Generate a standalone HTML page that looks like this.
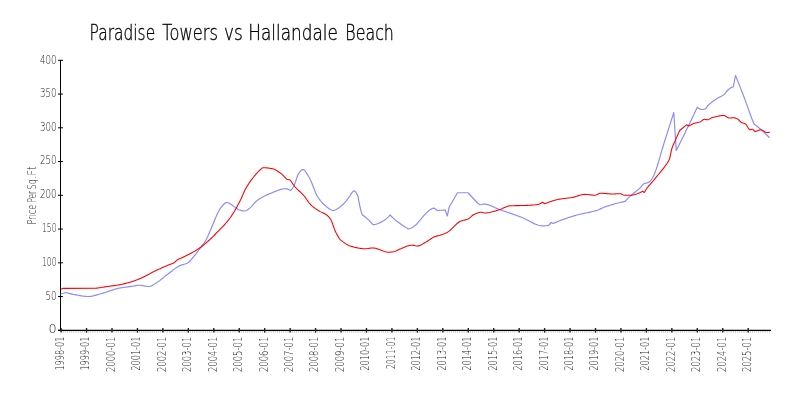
<!DOCTYPE html>
<html lang="en"><head><meta charset="utf-8"><title>Paradise Towers vs Hallandale Beach</title>
<style>
html,body{margin:0;padding:0;background:#fff;}
body{width:800px;height:400px;overflow:hidden;}
svg{display:block;}
text{font-family:"DejaVu Sans","Liberation Sans",sans-serif;font-weight:200;}
.t{fill:#000;stroke:#000;stroke-width:0.35px;}
.l{fill:#222;}
</style></head><body>
<svg width="800" height="400" viewBox="0 0 800 400">
<rect width="800" height="400" fill="#fff"/>
<text class="t" y="40.4" font-size="21.4"><tspan x="89.60" textLength="65.55" lengthAdjust="spacingAndGlyphs">Paradise</tspan> <tspan x="162.35" textLength="55.55" lengthAdjust="spacingAndGlyphs">Towers</tspan> <tspan x="224.10" textLength="18.80" lengthAdjust="spacingAndGlyphs">vs</tspan> <tspan x="248.35" textLength="89.55" lengthAdjust="spacingAndGlyphs">Hallandale</tspan> <tspan x="345.35" textLength="48.55" lengthAdjust="spacingAndGlyphs">Beach</tspan></text>
<text class="l" transform="translate(36.2,0) rotate(-90)" font-size="11.8"><tspan x="-224.40" textLength="19.70" lengthAdjust="spacingAndGlyphs">Price</tspan> <tspan x="-202.50" textLength="11.50" lengthAdjust="spacingAndGlyphs">Per</tspan> <tspan x="-189.40" textLength="12.90" lengthAdjust="spacingAndGlyphs">Sq.</tspan> <tspan x="-175.40" textLength="9.20" lengthAdjust="spacingAndGlyphs">Ft</tspan></text>
<path d="M61.10 330.8V332.6M63.22 330.8V332.6M65.34 330.8V332.6M67.46 330.8V332.6M69.58 330.8V332.6M71.70 330.8V332.6M73.82 330.8V332.6M75.94 330.8V332.6M78.07 330.8V332.6M80.19 330.8V332.6M82.31 330.8V332.6M84.43 330.8V332.6M86.55 330.8V332.6M88.67 330.8V332.6M90.79 330.8V332.6M92.91 330.8V332.6M95.03 330.8V332.6M97.15 330.8V332.6M99.27 330.8V332.6M101.39 330.8V332.6M103.51 330.8V332.6M105.63 330.8V332.6M107.75 330.8V332.6M109.88 330.8V332.6M112.00 330.8V332.6M114.12 330.8V332.6M116.24 330.8V332.6M118.36 330.8V332.6M120.48 330.8V332.6M122.60 330.8V332.6M124.72 330.8V332.6M126.84 330.8V332.6M128.96 330.8V332.6M131.08 330.8V332.6M133.20 330.8V332.6M135.32 330.8V332.6M137.44 330.8V332.6M139.57 330.8V332.6M141.69 330.8V332.6M143.81 330.8V332.6M145.93 330.8V332.6M148.05 330.8V332.6M150.17 330.8V332.6M152.29 330.8V332.6M154.41 330.8V332.6M156.53 330.8V332.6M158.65 330.8V332.6M160.77 330.8V332.6M162.89 330.8V332.6M165.01 330.8V332.6M167.13 330.8V332.6M169.25 330.8V332.6M171.38 330.8V332.6M173.50 330.8V332.6M175.62 330.8V332.6M177.74 330.8V332.6M179.86 330.8V332.6M181.98 330.8V332.6M184.10 330.8V332.6M186.22 330.8V332.6M188.34 330.8V332.6M190.46 330.8V332.6M192.58 330.8V332.6M194.70 330.8V332.6M196.82 330.8V332.6M198.94 330.8V332.6M201.06 330.8V332.6M203.19 330.8V332.6M205.31 330.8V332.6M207.43 330.8V332.6M209.55 330.8V332.6M211.67 330.8V332.6M213.79 330.8V332.6M215.91 330.8V332.6M218.03 330.8V332.6M220.15 330.8V332.6M222.27 330.8V332.6M224.39 330.8V332.6M226.51 330.8V332.6M228.63 330.8V332.6M230.75 330.8V332.6M232.88 330.8V332.6M235.00 330.8V332.6M237.12 330.8V332.6M239.24 330.8V332.6M241.36 330.8V332.6M243.48 330.8V332.6M245.60 330.8V332.6M247.72 330.8V332.6M249.84 330.8V332.6M251.96 330.8V332.6M254.08 330.8V332.6M256.20 330.8V332.6M258.32 330.8V332.6M260.44 330.8V332.6M262.56 330.8V332.6M264.69 330.8V332.6M266.81 330.8V332.6M268.93 330.8V332.6M271.05 330.8V332.6M273.17 330.8V332.6M275.29 330.8V332.6M277.41 330.8V332.6M279.53 330.8V332.6M281.65 330.8V332.6M283.77 330.8V332.6M285.89 330.8V332.6M288.01 330.8V332.6M290.13 330.8V332.6M292.25 330.8V332.6M294.37 330.8V332.6M296.50 330.8V332.6M298.62 330.8V332.6M300.74 330.8V332.6M302.86 330.8V332.6M304.98 330.8V332.6M307.10 330.8V332.6M309.22 330.8V332.6M311.34 330.8V332.6M313.46 330.8V332.6M315.58 330.8V332.6M317.70 330.8V332.6M319.82 330.8V332.6M321.94 330.8V332.6M324.06 330.8V332.6M326.18 330.8V332.6M328.31 330.8V332.6M330.43 330.8V332.6M332.55 330.8V332.6M334.67 330.8V332.6M336.79 330.8V332.6M338.91 330.8V332.6M341.03 330.8V332.6M343.15 330.8V332.6M345.27 330.8V332.6M347.39 330.8V332.6M349.51 330.8V332.6M351.63 330.8V332.6M353.75 330.8V332.6M355.87 330.8V332.6M358.00 330.8V332.6M360.12 330.8V332.6M362.24 330.8V332.6M364.36 330.8V332.6M366.48 330.8V332.6M368.60 330.8V332.6M370.72 330.8V332.6M372.84 330.8V332.6M374.96 330.8V332.6M377.08 330.8V332.6M379.20 330.8V332.6M381.32 330.8V332.6M383.44 330.8V332.6M385.56 330.8V332.6M387.68 330.8V332.6M389.81 330.8V332.6M391.93 330.8V332.6M394.05 330.8V332.6M396.17 330.8V332.6M398.29 330.8V332.6M400.41 330.8V332.6M402.53 330.8V332.6M404.65 330.8V332.6M406.77 330.8V332.6M408.89 330.8V332.6M411.01 330.8V332.6M413.13 330.8V332.6M415.25 330.8V332.6M417.37 330.8V332.6M419.49 330.8V332.6M421.62 330.8V332.6M423.74 330.8V332.6M425.86 330.8V332.6M427.98 330.8V332.6M430.10 330.8V332.6M432.22 330.8V332.6M434.34 330.8V332.6M436.46 330.8V332.6M438.58 330.8V332.6M440.70 330.8V332.6M442.82 330.8V332.6M444.94 330.8V332.6M447.06 330.8V332.6M449.18 330.8V332.6M451.30 330.8V332.6M453.43 330.8V332.6M455.55 330.8V332.6M457.67 330.8V332.6M459.79 330.8V332.6M461.91 330.8V332.6M464.03 330.8V332.6M466.15 330.8V332.6M468.27 330.8V332.6M470.39 330.8V332.6M472.51 330.8V332.6M474.63 330.8V332.6M476.75 330.8V332.6M478.87 330.8V332.6M480.99 330.8V332.6M483.12 330.8V332.6M485.24 330.8V332.6M487.36 330.8V332.6M489.48 330.8V332.6M491.60 330.8V332.6M493.72 330.8V332.6M495.84 330.8V332.6M497.96 330.8V332.6M500.08 330.8V332.6M502.20 330.8V332.6M504.32 330.8V332.6M506.44 330.8V332.6M508.56 330.8V332.6M510.68 330.8V332.6M512.80 330.8V332.6M514.93 330.8V332.6M517.05 330.8V332.6M519.17 330.8V332.6M521.29 330.8V332.6M523.41 330.8V332.6M525.53 330.8V332.6M527.65 330.8V332.6M529.77 330.8V332.6M531.89 330.8V332.6M534.01 330.8V332.6M536.13 330.8V332.6M538.25 330.8V332.6M540.37 330.8V332.6M542.49 330.8V332.6M544.61 330.8V332.6M546.74 330.8V332.6M548.86 330.8V332.6M550.98 330.8V332.6M553.10 330.8V332.6M555.22 330.8V332.6M557.34 330.8V332.6M559.46 330.8V332.6M561.58 330.8V332.6M563.70 330.8V332.6M565.82 330.8V332.6M567.94 330.8V332.6M570.06 330.8V332.6M572.18 330.8V332.6M574.30 330.8V332.6M576.43 330.8V332.6M578.55 330.8V332.6M580.67 330.8V332.6M582.79 330.8V332.6M584.91 330.8V332.6M587.03 330.8V332.6M589.15 330.8V332.6M591.27 330.8V332.6M593.39 330.8V332.6M595.51 330.8V332.6M597.63 330.8V332.6M599.75 330.8V332.6M601.87 330.8V332.6M603.99 330.8V332.6M606.11 330.8V332.6M608.24 330.8V332.6M610.36 330.8V332.6M612.48 330.8V332.6M614.60 330.8V332.6M616.72 330.8V332.6M618.84 330.8V332.6M620.96 330.8V332.6M623.08 330.8V332.6M625.20 330.8V332.6M627.32 330.8V332.6M629.44 330.8V332.6M631.56 330.8V332.6M633.68 330.8V332.6M635.80 330.8V332.6M637.92 330.8V332.6M640.05 330.8V332.6M642.17 330.8V332.6M644.29 330.8V332.6M646.41 330.8V332.6M648.53 330.8V332.6M650.65 330.8V332.6M652.77 330.8V332.6M654.89 330.8V332.6M657.01 330.8V332.6M659.13 330.8V332.6M661.25 330.8V332.6M663.37 330.8V332.6M665.49 330.8V332.6M667.61 330.8V332.6M669.73 330.8V332.6M671.86 330.8V332.6M673.98 330.8V332.6M676.10 330.8V332.6M678.22 330.8V332.6M680.34 330.8V332.6M682.46 330.8V332.6M684.58 330.8V332.6M686.70 330.8V332.6M688.82 330.8V332.6M690.94 330.8V332.6M693.06 330.8V332.6M695.18 330.8V332.6M697.30 330.8V332.6M699.42 330.8V332.6M701.55 330.8V332.6M703.67 330.8V332.6M705.79 330.8V332.6M707.91 330.8V332.6M710.03 330.8V332.6M712.15 330.8V332.6M714.27 330.8V332.6M716.39 330.8V332.6M718.51 330.8V332.6M720.63 330.8V332.6M722.75 330.8V332.6M724.87 330.8V332.6M726.99 330.8V332.6M729.11 330.8V332.6M731.23 330.8V332.6M733.36 330.8V332.6M735.48 330.8V332.6M737.60 330.8V332.6M739.72 330.8V332.6M741.84 330.8V332.6M743.96 330.8V332.6M746.08 330.8V332.6M748.20 330.8V332.6M750.32 330.8V332.6M752.44 330.8V332.6M754.56 330.8V332.6M756.68 330.8V332.6M758.80 330.8V332.6M760.92 330.8V332.6M763.04 330.8V332.6M765.17 330.8V332.6M767.29 330.8V332.6M769.41 330.8V332.6" stroke="#bbb" stroke-width="0.9" fill="none"/>
<path d="M60.5 60V331" stroke="#000" stroke-width="1" fill="none"/>
<path d="M58 330.4H771" stroke="#000" stroke-width="1.1" fill="none"/>
<path d="M58 330.30H63" stroke="#000" stroke-width="1"/><text class="l" x="48.4" y="333.30" font-size="12.2" textLength="8.15" lengthAdjust="spacingAndGlyphs">0</text>
<path d="M58 296.55H63" stroke="#000" stroke-width="1"/><text class="l" x="45.4" y="299.55" font-size="12.2" textLength="11.1" lengthAdjust="spacingAndGlyphs">50</text>
<path d="M58 262.80H63" stroke="#000" stroke-width="1"/><text class="l" x="42.0" y="265.80" font-size="12.2" textLength="14.5" lengthAdjust="spacingAndGlyphs">100</text>
<path d="M58 229.05H63" stroke="#000" stroke-width="1"/><text class="l" x="42.0" y="232.05" font-size="12.2" textLength="14.5" lengthAdjust="spacingAndGlyphs">150</text>
<path d="M58 195.30H63" stroke="#000" stroke-width="1"/><text class="l" x="39.9" y="198.30" font-size="12.2" textLength="16.65" lengthAdjust="spacingAndGlyphs">200</text>
<path d="M58 161.55H63" stroke="#000" stroke-width="1"/><text class="l" x="39.9" y="163.75" font-size="12.2" textLength="16.65" lengthAdjust="spacingAndGlyphs">250</text>
<path d="M58 127.80H63" stroke="#000" stroke-width="1"/><text class="l" x="39.9" y="130.80" font-size="12.2" textLength="16.65" lengthAdjust="spacingAndGlyphs">300</text>
<path d="M58 94.05H63" stroke="#000" stroke-width="1"/><text class="l" x="39.9" y="97.05" font-size="12.2" textLength="16.65" lengthAdjust="spacingAndGlyphs">350</text>
<path d="M58 60.30H63" stroke="#000" stroke-width="1"/><text class="l" x="39.9" y="64.20" font-size="12.2" textLength="16.65" lengthAdjust="spacingAndGlyphs">400</text>
<path d="M61.10 328V332.6" stroke="#222" stroke-width="1.4"/><text class="l" transform="translate(64.00,370.6) rotate(-90)" font-size="11.8" textLength="34.0" lengthAdjust="spacingAndGlyphs">1998-01</text>
<path d="M86.55 328V332.6" stroke="#222" stroke-width="1.4"/><text class="l" transform="translate(89.45,370.6) rotate(-90)" font-size="11.8" textLength="34.0" lengthAdjust="spacingAndGlyphs">1999-01</text>
<path d="M112.00 328V332.6" stroke="#222" stroke-width="1.4"/><text class="l" transform="translate(114.90,372.1) rotate(-90)" font-size="11.8" textLength="35.5" lengthAdjust="spacingAndGlyphs">2000-01</text>
<path d="M137.44 328V332.6" stroke="#222" stroke-width="1.4"/><text class="l" transform="translate(140.34,370.6) rotate(-90)" font-size="11.8" textLength="34.0" lengthAdjust="spacingAndGlyphs">2001-01</text>
<path d="M162.89 328V332.6" stroke="#222" stroke-width="1.4"/><text class="l" transform="translate(165.79,372.1) rotate(-90)" font-size="11.8" textLength="35.5" lengthAdjust="spacingAndGlyphs">2002-01</text>
<path d="M188.34 328V332.6" stroke="#222" stroke-width="1.4"/><text class="l" transform="translate(191.24,372.1) rotate(-90)" font-size="11.8" textLength="35.5" lengthAdjust="spacingAndGlyphs">2003-01</text>
<path d="M213.79 328V332.6" stroke="#222" stroke-width="1.4"/><text class="l" transform="translate(216.69,372.1) rotate(-90)" font-size="11.8" textLength="35.5" lengthAdjust="spacingAndGlyphs">2004-01</text>
<path d="M239.24 328V332.6" stroke="#222" stroke-width="1.4"/><text class="l" transform="translate(242.14,372.1) rotate(-90)" font-size="11.8" textLength="35.5" lengthAdjust="spacingAndGlyphs">2005-01</text>
<path d="M264.69 328V332.6" stroke="#222" stroke-width="1.4"/><text class="l" transform="translate(267.59,372.1) rotate(-90)" font-size="11.8" textLength="35.5" lengthAdjust="spacingAndGlyphs">2006-01</text>
<path d="M290.13 328V332.6" stroke="#222" stroke-width="1.4"/><text class="l" transform="translate(293.03,372.1) rotate(-90)" font-size="11.8" textLength="35.5" lengthAdjust="spacingAndGlyphs">2007-01</text>
<path d="M315.58 328V332.6" stroke="#222" stroke-width="1.4"/><text class="l" transform="translate(318.48,372.1) rotate(-90)" font-size="11.8" textLength="35.5" lengthAdjust="spacingAndGlyphs">2008-01</text>
<path d="M341.03 328V332.6" stroke="#222" stroke-width="1.4"/><text class="l" transform="translate(343.93,372.1) rotate(-90)" font-size="11.8" textLength="35.5" lengthAdjust="spacingAndGlyphs">2009-01</text>
<path d="M366.48 328V332.6" stroke="#222" stroke-width="1.4"/><text class="l" transform="translate(369.38,370.6) rotate(-90)" font-size="11.8" textLength="34.0" lengthAdjust="spacingAndGlyphs">2010-01</text>
<path d="M391.93 328V332.6" stroke="#222" stroke-width="1.4"/><text class="l" transform="translate(394.83,369.1) rotate(-90)" font-size="11.8" textLength="32.5" lengthAdjust="spacingAndGlyphs">2011-01</text>
<path d="M417.37 328V332.6" stroke="#222" stroke-width="1.4"/><text class="l" transform="translate(420.27,370.6) rotate(-90)" font-size="11.8" textLength="34.0" lengthAdjust="spacingAndGlyphs">2012-01</text>
<path d="M442.82 328V332.6" stroke="#222" stroke-width="1.4"/><text class="l" transform="translate(445.72,370.6) rotate(-90)" font-size="11.8" textLength="34.0" lengthAdjust="spacingAndGlyphs">2013-01</text>
<path d="M468.27 328V332.6" stroke="#222" stroke-width="1.4"/><text class="l" transform="translate(471.17,370.6) rotate(-90)" font-size="11.8" textLength="34.0" lengthAdjust="spacingAndGlyphs">2014-01</text>
<path d="M493.72 328V332.6" stroke="#222" stroke-width="1.4"/><text class="l" transform="translate(496.62,370.6) rotate(-90)" font-size="11.8" textLength="34.0" lengthAdjust="spacingAndGlyphs">2015-01</text>
<path d="M519.17 328V332.6" stroke="#222" stroke-width="1.4"/><text class="l" transform="translate(522.07,370.6) rotate(-90)" font-size="11.8" textLength="34.0" lengthAdjust="spacingAndGlyphs">2016-01</text>
<path d="M544.61 328V332.6" stroke="#222" stroke-width="1.4"/><text class="l" transform="translate(547.51,370.6) rotate(-90)" font-size="11.8" textLength="34.0" lengthAdjust="spacingAndGlyphs">2017-01</text>
<path d="M570.06 328V332.6" stroke="#222" stroke-width="1.4"/><text class="l" transform="translate(572.96,370.6) rotate(-90)" font-size="11.8" textLength="34.0" lengthAdjust="spacingAndGlyphs">2018-01</text>
<path d="M595.51 328V332.6" stroke="#222" stroke-width="1.4"/><text class="l" transform="translate(598.41,370.6) rotate(-90)" font-size="11.8" textLength="34.0" lengthAdjust="spacingAndGlyphs">2019-01</text>
<path d="M620.96 328V332.6" stroke="#222" stroke-width="1.4"/><text class="l" transform="translate(623.86,372.1) rotate(-90)" font-size="11.8" textLength="35.5" lengthAdjust="spacingAndGlyphs">2020-01</text>
<path d="M646.41 328V332.6" stroke="#222" stroke-width="1.4"/><text class="l" transform="translate(649.31,370.6) rotate(-90)" font-size="11.8" textLength="34.0" lengthAdjust="spacingAndGlyphs">2021-01</text>
<path d="M671.86 328V332.6" stroke="#222" stroke-width="1.4"/><text class="l" transform="translate(674.76,372.1) rotate(-90)" font-size="11.8" textLength="35.5" lengthAdjust="spacingAndGlyphs">2022-01</text>
<path d="M697.30 328V332.6" stroke="#222" stroke-width="1.4"/><text class="l" transform="translate(700.20,372.1) rotate(-90)" font-size="11.8" textLength="35.5" lengthAdjust="spacingAndGlyphs">2023-01</text>
<path d="M722.75 328V332.6" stroke="#222" stroke-width="1.4"/><text class="l" transform="translate(725.65,372.1) rotate(-90)" font-size="11.8" textLength="35.5" lengthAdjust="spacingAndGlyphs">2024-01</text>
<path d="M748.20 328V332.6" stroke="#222" stroke-width="1.4"/><text class="l" transform="translate(751.10,372.1) rotate(-90)" font-size="11.8" textLength="35.5" lengthAdjust="spacingAndGlyphs">2025-01</text>
<polyline points="60.50,294.00 66.00,292.50 67.00,292.79 68.00,293.07 69.00,293.34 70.00,293.61 71.00,293.86 72.00,294.09 73.00,294.31 74.00,294.50 75.00,294.69 76.00,294.88 77.00,295.07 78.00,295.26 79.00,295.44 80.00,295.62 81.00,295.79 82.00,295.95 83.00,296.09 84.00,296.22 85.00,296.32 86.00,296.41 87.00,296.47 88.00,296.50 88.50,296.50 89.00,296.49 90.00,296.43 91.00,296.30 92.00,296.13 93.00,295.92 94.00,295.67 95.00,295.40 96.00,295.12 97.00,294.83 98.00,294.54 99.00,294.26 100.00,294.00 101.00,293.74 102.00,293.46 103.00,293.17 104.00,292.86 105.00,292.54 106.00,292.21 107.00,291.87 108.00,291.53 109.00,291.19 110.00,290.84 111.00,290.50 112.00,290.17 113.00,289.84 114.00,289.53 115.00,289.23 116.00,288.94 117.00,288.67 118.00,288.42 119.00,288.20 120.00,288.00 121.00,287.82 122.00,287.66 123.00,287.50 124.00,287.36 125.00,287.22 126.00,287.09 127.00,286.96 128.00,286.84 129.00,286.71 130.00,286.59 131.00,286.46 132.00,286.32 132.50,286.25 133.00,286.17 134.00,286.00 135.00,285.81 136.00,285.62 137.00,285.45 138.00,285.32 139.00,285.26 139.40,285.25 140.00,285.26 141.00,285.35 142.00,285.49 143.00,285.66 144.00,285.86 145.00,286.06 146.00,286.24 147.00,286.39 148.00,286.48 148.75,286.50 149.00,286.49 150.00,286.32 151.00,285.97 152.00,285.48 153.00,284.91 154.00,284.32 155.00,283.75 156.00,283.18 157.00,282.54 158.00,281.86 159.00,281.13 160.00,280.36 161.00,279.57 162.00,278.76 163.00,277.94 164.00,277.12 165.00,276.32 166.00,275.53 167.00,274.77 167.50,274.40 168.00,274.03 169.00,273.28 170.00,272.50 171.00,271.72 172.00,270.93 173.00,270.15 174.00,269.38 175.00,268.64 176.00,267.93 177.00,267.26 178.00,266.65 179.00,266.09 180.00,265.60 181.00,265.19 182.00,264.86 183.00,264.57 184.00,264.30 185.00,264.00 186.00,263.66 187.00,263.25 187.50,263.00 188.00,262.71 189.00,261.95 190.00,261.01 191.00,259.92 192.00,258.72 193.00,257.48 194.00,256.22 195.00,255.00 196.00,253.77 197.00,252.48 198.00,251.13 199.00,249.76 200.00,248.38 201.00,247.00 202.00,245.67 203.00,244.38 204.00,243.05 205.00,241.61 206.00,240.00 207.00,238.07 208.00,235.85 209.00,233.48 210.00,231.12 210.50,230.00 211.00,228.89 212.00,226.56 213.00,224.15 214.00,221.69 215.00,219.25 216.00,216.86 217.00,214.58 218.00,212.45 219.00,210.53 220.00,208.86 221.00,207.50 222.00,206.28 223.00,205.08 224.00,204.00 225.00,203.14 226.00,202.62 226.70,202.50 227.00,202.51 228.00,202.70 229.00,203.09 230.00,203.65 231.00,204.32 232.00,205.07 233.00,205.85 234.00,206.63 235.00,207.36 236.00,208.00 237.00,208.63 238.00,209.29 239.00,209.82 239.50,210.00 240.00,210.14 241.00,210.41 242.00,210.65 243.00,210.83 244.00,210.96 245.00,211.00 246.00,210.75 247.00,210.17 248.00,209.50 249.00,208.78 250.00,207.90 251.00,206.89 252.00,205.81 253.00,204.68 254.00,203.56 255.00,202.48 256.00,201.49 257.00,200.62 257.50,200.25 258.00,199.90 259.00,199.23 260.00,198.59 261.00,197.98 262.00,197.40 263.00,196.84 264.00,196.31 265.00,195.80 266.00,195.32 267.00,194.86 268.00,194.42 269.00,194.00 269.50,193.80 270.00,193.60 271.00,193.19 272.00,192.77 273.00,192.34 274.00,191.92 275.00,191.50 276.00,191.10 277.00,190.71 278.00,190.34 279.00,189.99 280.00,189.68 281.00,189.40 282.00,189.16 283.00,188.97 284.00,188.82 285.00,188.73 286.00,188.70 287.00,188.83 288.00,189.18 289.00,189.67 290.00,190.22 290.50,190.50 291.50,189.55 292.50,188.28 293.50,186.75 294.50,184.60 295.50,181.72 296.50,178.61 297.50,175.75 298.50,173.61 298.75,173.25 299.50,172.28 300.50,171.08 301.50,170.13 302.50,169.58 303.00,169.50 303.50,169.59 304.50,170.28 305.50,171.47 306.50,172.98 307.50,174.64 308.50,176.25 309.50,178.00 310.50,180.00 311.50,182.22 312.50,184.70 313.50,187.31 314.50,189.93 315.50,192.42 316.50,194.65 317.50,196.50 318.50,198.05 319.50,199.47 320.50,200.77 321.50,201.96 322.50,203.05 323.50,204.04 324.00,204.50 324.50,204.95 325.50,205.82 326.50,206.66 327.50,207.46 328.50,208.21 329.50,208.90 330.50,209.52 331.50,210.08 332.50,210.55 333.00,210.75 334.00,210.44 335.00,210.04 336.00,209.55 337.00,208.99 338.00,208.35 339.00,207.66 340.00,206.91 341.00,206.12 342.00,205.29 343.00,204.44 343.50,204.00 344.00,203.53 345.00,202.44 346.00,201.20 347.00,199.86 348.00,198.49 349.00,197.14 349.50,196.50 350.00,195.81 351.00,194.18 352.00,192.56 353.00,191.30 354.00,190.80 355.00,191.24 356.00,192.43 357.00,194.18 357.75,195.75 358.00,196.47 359.00,201.59 360.00,207.00 361.00,210.85 362.00,214.10 362.25,214.80 363.25,215.51 364.25,216.26 365.25,217.06 366.25,217.90 367.25,218.78 367.50,219.00 368.25,219.69 369.25,220.66 370.25,221.67 371.25,222.74 372.25,223.84 373.00,224.70 374.00,224.62 375.00,224.45 376.00,224.21 377.00,223.90 378.00,223.53 379.00,223.11 380.00,222.64 381.00,222.14 382.00,221.61 383.00,221.06 384.00,220.50 385.00,219.86 386.00,219.07 387.00,218.16 388.00,217.16 389.00,216.10 390.00,215.00 391.00,215.99 392.00,216.96 393.00,217.91 394.00,218.82 395.00,219.68 396.00,220.50 397.00,221.28 398.00,222.05 399.00,222.80 400.00,223.54 401.00,224.26 402.00,224.96 403.00,225.63 404.00,226.28 405.00,226.91 406.00,227.51 407.00,228.08 408.00,228.62 408.75,229.00 409.75,228.70 410.75,228.28 411.75,227.76 412.75,227.15 413.75,226.47 414.75,225.73 415.75,224.95 416.00,224.75 416.75,224.06 417.75,222.94 418.75,221.70 419.75,220.49 420.00,220.20 420.75,219.34 421.75,218.14 422.75,216.92 423.75,215.70 424.75,214.53 425.75,213.43 426.75,212.44 427.75,211.59 428.00,211.40 428.75,210.84 429.75,210.09 430.75,209.37 431.75,208.76 432.75,208.32 433.75,208.11 434.00,208.10 434.75,208.44 435.75,209.47 436.75,210.26 437.00,210.30 437.75,210.30 438.75,210.30 439.75,210.29 440.75,210.27 441.75,210.24 442.75,210.20 443.75,210.13 444.75,210.05 445.20,210.00 447.30,216.00 449.25,207.00 457.50,192.75 468.00,192.75 477.75,203.25 478.75,204.03 479.75,204.56 480.75,204.75 481.75,204.56 482.75,204.19 483.75,204.00 484.75,204.04 485.75,204.17 486.75,204.36 487.75,204.62 488.75,204.93 489.75,205.29 490.75,205.68 491.75,206.11 492.75,206.56 493.75,207.02 494.75,207.49 495.75,207.95 496.75,208.40 497.75,208.82 498.75,209.22 499.50,209.50 499.75,209.59 500.75,209.94 501.75,210.29 502.75,210.64 503.75,210.99 504.75,211.33 505.75,211.68 506.75,212.03 507.75,212.38 508.75,212.73 509.75,213.07 510.75,213.42 511.75,213.78 512.75,214.13 513.75,214.48 514.75,214.84 515.75,215.20 516.75,215.56 517.75,215.92 518.75,216.29 519.75,216.66 520.75,217.03 521.75,217.41 522.00,217.50 522.75,217.80 523.75,218.23 524.75,218.69 525.75,219.18 526.75,219.69 527.75,220.22 528.75,220.76 529.75,221.30 530.75,221.83 531.75,222.36 532.75,222.88 533.75,223.37 534.75,223.83 535.75,224.26 536.75,224.65 537.75,224.99 538.75,225.28 539.75,225.51 540.75,225.68 541.75,225.78 542.50,225.80 542.75,225.80 543.75,225.80 544.75,225.78 545.75,225.75 546.75,225.69 547.75,225.60 548.50,225.50 551.20,222.50 553.00,223.50 554.00,223.08 555.00,222.67 556.00,222.26 557.00,221.85 558.00,221.45 559.00,221.06 560.00,220.67 561.00,220.29 562.00,219.91 563.00,219.54 564.00,219.17 565.00,218.82 566.00,218.46 567.00,218.12 568.00,217.77 569.00,217.44 570.00,217.11 571.00,216.79 572.00,216.47 573.00,216.17 574.00,215.86 575.00,215.57 576.00,215.28 577.00,215.00 578.00,214.73 579.00,214.48 580.00,214.24 581.00,214.01 582.00,213.79 583.00,213.58 584.00,213.37 585.00,213.17 586.00,212.97 587.00,212.77 588.00,212.57 589.00,212.37 590.00,212.16 591.00,211.94 592.00,211.71 593.00,211.47 594.00,211.21 595.00,210.94 596.00,210.65 596.50,210.50 597.00,210.34 598.00,209.97 599.00,209.56 600.00,209.12 601.00,208.66 602.00,208.19 603.00,207.74 604.00,207.31 605.00,206.93 605.50,206.75 606.00,206.58 607.00,206.25 608.00,205.92 609.00,205.60 610.00,205.28 611.00,204.97 612.00,204.66 613.00,204.36 614.00,204.07 615.00,203.79 616.00,203.51 617.00,203.24 618.00,202.99 619.00,202.74 620.00,202.50 621.00,202.28 622.00,202.06 623.00,201.86 624.00,201.68 625.00,201.50 626.00,200.44 627.00,199.40 628.00,198.39 629.00,197.39 630.00,196.43 631.00,195.50 632.00,194.61 633.00,193.77 634.00,192.96 635.00,192.17 636.00,191.39 637.00,190.59 638.00,189.77 639.00,188.91 640.00,188.00 641.00,186.90 642.00,185.67 643.00,184.55 644.00,183.80 645.00,183.42 646.00,183.16 647.00,182.93 648.00,182.62 648.50,182.40 649.00,182.10 650.00,181.21 651.00,180.02 652.00,178.62 652.25,178.25 653.00,177.01 654.00,174.98 655.00,172.59 656.00,169.88 657.00,166.90 658.00,163.72 659.00,160.38 660.00,156.93 661.00,153.44 662.00,149.94 663.00,146.50 664.00,143.17 665.00,140.00 666.00,136.92 667.00,133.82 668.00,130.70 669.00,127.57 670.00,124.42 671.00,121.26 672.00,118.08 673.00,114.90 673.75,112.50 676.25,150.50 677.25,148.52 678.25,146.52 679.25,144.53 680.25,142.52 681.25,140.51 681.50,140.00 682.25,138.48 683.25,136.45 684.25,134.42 685.25,132.38 686.25,130.34 687.25,128.29 688.25,126.23 689.25,124.16 690.25,122.09 691.25,120.00 692.25,117.90 693.25,115.79 694.25,113.67 695.25,111.54 696.25,109.40 697.25,107.25 698.25,108.03 699.25,108.64 700.25,109.09 701.25,109.37 702.25,109.49 702.50,109.50 703.25,109.44 704.25,109.22 705.25,108.86 705.50,108.75 706.25,108.00 707.25,106.40 707.75,105.75 708.25,105.24 709.25,104.29 710.25,103.41 711.25,102.60 712.25,101.83 713.25,101.11 714.25,100.42 715.25,99.74 716.25,99.08 717.25,98.42 717.50,98.25 718.25,97.78 719.25,97.24 720.25,96.74 721.25,96.26 722.25,95.74 723.25,95.14 724.25,94.41 725.00,93.75 725.25,93.45 726.25,91.81 726.50,91.50 727.25,90.75 728.25,89.78 729.25,88.90 730.25,88.13 731.25,87.53 732.25,87.14 733.25,87.00 735.50,75.50 736.50,77.92 737.50,80.37 738.50,82.85 739.50,85.35 740.50,87.88 741.50,90.44 742.20,92.25 742.50,93.03 743.50,95.69 744.50,98.40 745.50,101.15 746.50,103.92 747.50,106.71 748.50,109.49 749.50,112.25 750.50,114.97 751.50,117.65 752.40,120.00 752.50,120.26 753.50,122.77 754.00,124.00 755.00,124.74 756.00,125.50 757.00,126.29 758.00,127.09 759.00,127.92 760.00,128.76 761.00,129.62 762.00,130.50 763.00,131.40 764.00,132.32 765.00,133.27 766.00,134.24 767.00,135.23 768.00,136.24 769.00,137.28 769.50,137.80" fill="none" stroke="#8c8cff" stroke-width="1.2" stroke-linejoin="round"/>
<polyline points="60.50,289.30 63.00,288.40 96.00,288.30 97.00,288.14 98.00,287.98 99.00,287.82 100.00,287.66 101.00,287.50 102.00,287.34 103.00,287.19 104.00,287.03 105.00,286.88 106.00,286.73 107.00,286.57 108.00,286.42 109.00,286.27 109.50,286.20 110.00,286.13 111.00,285.99 112.00,285.85 113.00,285.72 114.00,285.59 115.00,285.46 116.00,285.33 117.00,285.19 118.00,285.04 119.00,284.88 120.00,284.70 121.00,284.51 122.00,284.30 123.00,284.08 124.00,283.85 125.00,283.61 126.00,283.35 127.00,283.08 128.00,282.80 129.00,282.51 130.00,282.22 131.00,281.91 132.00,281.59 133.00,281.27 134.00,280.94 135.00,280.60 136.00,280.24 137.00,279.86 138.00,279.46 139.00,279.03 140.00,278.59 141.00,278.14 142.00,277.67 143.00,277.20 144.00,276.73 145.00,276.25 146.00,275.76 147.00,275.25 148.00,274.72 149.00,274.17 150.00,273.62 151.00,273.08 152.00,272.53 153.00,272.00 154.00,271.49 155.00,271.00 156.00,270.53 157.00,270.06 158.00,269.59 159.00,269.13 160.00,268.67 161.00,268.22 162.00,267.77 163.00,267.33 164.00,266.90 165.00,266.47 166.00,266.04 167.00,265.63 168.00,265.22 169.00,264.81 170.00,264.42 171.00,264.03 172.00,263.65 173.00,263.27 173.75,263.00 178.00,259.40 179.00,258.99 180.00,258.57 181.00,258.14 182.00,257.69 183.00,257.24 184.00,256.77 185.00,256.29 186.00,255.80 187.00,255.30 188.00,254.79 189.00,254.28 190.00,253.75 191.00,253.22 192.00,252.67 193.00,252.11 194.00,251.54 195.00,250.96 196.00,250.36 197.00,249.74 198.00,249.10 199.00,248.43 200.00,247.75 201.00,247.04 202.00,246.29 203.00,245.51 204.00,244.70 205.00,243.87 206.00,243.01 207.00,242.14 208.00,241.26 209.00,240.36 209.40,240.00 210.00,239.45 211.00,238.51 212.00,237.54 213.00,236.54 214.00,235.53 215.00,234.50 216.00,233.48 217.00,232.47 218.00,231.46 219.00,230.45 220.00,229.44 221.00,228.42 222.00,227.39 223.00,226.34 224.00,225.26 225.00,224.15 226.00,223.01 227.00,221.83 228.00,220.60 229.00,219.33 230.00,218.00 231.00,216.60 232.00,215.11 233.00,213.55 234.00,211.92 235.00,210.22 236.00,208.46 237.00,206.65 238.00,204.80 239.00,202.90 240.00,200.97 240.50,200.00 241.00,198.98 242.00,196.74 243.00,194.37 244.00,192.04 245.00,189.93 245.50,189.00 246.00,188.14 247.00,186.46 248.00,184.85 249.00,183.31 250.00,181.84 251.00,180.42 252.00,179.06 253.00,177.76 254.00,176.51 255.00,175.31 256.00,174.15 257.00,173.04 257.50,172.50 258.00,171.97 259.00,170.97 260.00,170.02 261.00,169.13 262.00,168.29 262.75,167.70 263.75,167.71 264.75,167.75 265.75,167.82 266.75,167.91 267.75,168.01 268.75,168.14 269.75,168.28 270.75,168.44 271.75,168.61 272.50,168.75 272.75,168.80 273.75,169.09 274.75,169.50 275.75,170.01 276.75,170.60 277.75,171.25 278.75,171.93 279.75,172.63 280.00,172.80 280.75,173.35 281.75,174.16 282.75,175.06 283.75,176.03 284.75,177.07 285.75,178.17 286.70,179.25 290.20,180.00 291.20,181.53 292.20,183.01 293.20,184.43 294.20,185.76 295.00,186.75 295.20,186.99 296.20,188.10 297.20,189.12 298.20,190.09 299.20,191.01 300.20,191.93 301.20,192.86 302.20,193.83 303.20,194.86 304.00,195.75 304.20,195.99 305.20,197.28 306.20,198.70 307.20,200.19 308.20,201.66 309.20,203.03 310.20,204.24 310.70,204.75 311.20,205.22 312.20,206.11 313.20,206.93 314.20,207.70 315.20,208.42 316.20,209.10 317.20,209.76 318.20,210.39 319.20,211.01 319.50,211.20 320.20,211.61 321.20,212.13 322.20,212.60 323.20,213.06 324.20,213.54 325.20,214.06 326.20,214.68 327.00,215.25 327.20,215.41 328.20,216.32 329.20,217.43 330.20,218.77 331.00,220.00 331.20,220.35 332.20,222.70 333.20,225.61 334.20,228.53 335.00,230.50 335.20,230.92 336.20,232.97 337.20,234.89 338.20,236.66 339.20,238.26 340.20,239.65 340.40,239.90 341.40,240.66 342.40,241.41 343.40,242.14 344.40,242.83 345.40,243.49 346.40,244.11 347.40,244.69 348.40,245.20 349.40,245.66 350.40,246.05 351.40,246.37 351.50,246.40 352.40,246.64 353.40,246.91 354.40,247.17 355.40,247.41 356.40,247.65 357.40,247.87 358.40,248.06 359.40,248.24 360.40,248.40 361.40,248.53 362.40,248.63 363.40,248.70 364.40,248.74 365.00,248.75 365.40,248.74 366.40,248.68 367.40,248.57 368.40,248.43 369.40,248.28 370.40,248.14 371.40,248.04 372.40,248.00 372.50,248.00 373.40,248.04 374.40,248.15 375.40,248.34 376.40,248.59 377.40,248.89 378.40,249.23 379.40,249.59 380.40,249.97 381.40,250.35 382.40,250.72 383.40,251.08 384.40,251.40 385.40,251.69 386.40,251.92 387.40,252.09 388.40,252.18 389.00,252.20 389.40,252.19 390.40,252.14 391.40,252.05 392.40,251.91 393.40,251.77 393.50,251.75 394.40,251.55 395.40,251.20 396.40,250.77 397.40,250.29 398.40,249.80 399.40,249.34 400.00,249.10 400.40,248.95 401.40,248.54 402.40,248.10 403.40,247.65 404.40,247.20 405.40,246.76 406.40,246.35 407.40,245.98 408.40,245.67 409.40,245.43 410.40,245.26 411.40,245.20 411.50,245.20 412.40,245.25 413.40,245.39 414.40,245.58 415.40,245.77 416.40,245.93 417.40,246.00 417.50,246.00 418.40,245.91 419.40,245.64 420.40,245.22 421.40,244.69 422.40,244.11 423.40,243.50 424.40,242.92 425.00,242.60 425.40,242.39 426.40,241.82 427.40,241.19 428.40,240.53 429.40,239.85 430.40,239.18 431.40,238.52 432.40,237.90 433.40,237.33 434.40,236.84 435.40,236.43 435.50,236.40 436.40,236.13 437.40,235.88 438.40,235.66 439.40,235.42 440.00,235.25 440.40,235.13 441.40,234.81 442.40,234.46 443.40,234.10 444.40,233.70 445.40,233.27 446.40,232.80 447.00,232.50 447.40,232.28 448.40,231.64 449.40,230.87 450.40,230.01 451.40,229.07 452.40,228.09 453.40,227.08 454.40,226.06 455.40,225.07 456.40,224.13 457.40,223.25 458.40,222.47 459.40,221.81 460.40,221.29 460.50,221.25 461.40,220.91 462.40,220.60 463.40,220.34 464.40,220.10 465.40,219.86 466.40,219.58 467.40,219.24 468.00,219.00 468.40,218.80 469.40,218.13 470.40,217.29 471.40,216.39 472.40,215.53 473.40,214.81 474.00,214.50 474.40,214.33 475.40,213.89 476.40,213.47 477.40,213.09 478.40,212.76 479.40,212.50 480.40,212.32 481.40,212.25 481.50,212.25 482.40,212.41 483.40,212.77 484.40,213.00 484.50,213.00 485.40,212.98 486.40,212.91 487.40,212.80 488.40,212.66 489.40,212.48 490.40,212.26 491.40,212.03 492.40,211.77 493.40,211.50 494.40,211.21 495.40,210.91 496.40,210.61 497.40,210.31 498.40,210.02 499.40,209.73 499.50,209.70 500.40,209.41 501.40,209.02 502.40,208.57 503.40,208.09 504.40,207.61 505.40,207.14 506.40,206.70 507.40,206.33 508.40,206.04 509.40,205.85 510.00,205.80 510.40,205.78 511.40,205.75 512.40,205.72 513.40,205.69 514.40,205.67 515.40,205.65 516.40,205.64 517.40,205.62 518.40,205.61 519.40,205.59 520.40,205.58 521.40,205.56 522.40,205.53 523.40,205.50 523.50,205.50 524.40,205.47 525.40,205.44 526.40,205.40 527.40,205.36 528.40,205.32 529.40,205.27 530.40,205.21 531.40,205.15 532.40,205.08 533.40,205.00 534.40,204.92 535.40,204.82 536.40,204.71 537.40,204.58 538.00,204.50 538.40,204.42 539.40,204.07 540.40,203.55 541.40,202.94 542.40,202.31 542.50,202.25 544.75,203.75 545.75,203.35 546.75,202.95 547.75,202.57 548.75,202.20 549.75,201.83 550.75,201.49 551.75,201.15 552.75,200.84 553.75,200.53 554.75,200.25 555.75,199.98 556.75,199.73 557.75,199.51 558.75,199.30 559.00,199.25 559.75,199.11 560.75,198.95 561.75,198.80 562.75,198.66 563.75,198.54 564.75,198.42 565.75,198.30 566.75,198.19 567.75,198.07 568.75,197.95 569.75,197.82 570.75,197.68 571.75,197.53 572.50,197.40 572.75,197.35 573.75,197.13 574.75,196.86 575.75,196.55 576.75,196.22 577.75,195.88 578.75,195.55 579.75,195.24 580.75,194.95 581.75,194.71 582.75,194.53 583.75,194.43 584.50,194.40 584.75,194.40 585.75,194.43 586.75,194.49 587.75,194.58 588.75,194.69 589.75,194.80 590.75,194.91 591.75,195.02 592.75,195.11 593.75,195.17 594.75,195.20 595.00,195.20 595.75,195.09 596.75,194.69 597.75,194.16 598.75,193.64 599.75,193.30 600.25,193.25 600.75,193.25 601.75,193.28 602.75,193.33 603.75,193.39 604.75,193.46 605.75,193.55 606.75,193.64 607.75,193.72 608.75,193.81 609.75,193.88 610.75,193.94 611.75,193.98 612.75,194.00 613.00,194.00 613.75,193.99 614.75,193.95 615.75,193.90 616.75,193.83 617.75,193.77 618.75,193.73 619.75,193.70 620.00,193.70 620.75,193.81 621.75,194.20 622.75,194.70 623.75,195.09 624.50,195.20 624.75,195.20 625.75,195.20 626.75,195.20 627.75,195.20 628.75,195.20 629.75,195.20 630.50,195.20 630.75,195.20 631.75,195.15 632.75,195.03 633.75,194.84 634.75,194.61 635.75,194.31 636.75,193.97 637.75,193.59 638.75,193.16 639.75,192.71 640.75,192.22 641.75,191.70 642.50,191.30 644.30,192.50 647.00,188.00 648.00,186.85 649.00,185.69 650.00,184.53 651.00,183.35 652.00,182.17 653.00,180.99 654.00,179.80 655.00,178.60 656.00,177.39 657.00,176.18 658.00,174.97 659.00,173.75 660.00,172.55 661.00,171.36 662.00,170.16 663.00,168.93 664.00,167.63 665.00,166.25 666.00,164.87 667.00,163.49 668.00,161.90 669.00,159.94 669.50,158.75 670.00,157.03 671.00,152.16 671.75,149.00 672.00,148.23 673.00,145.55 674.00,143.28 675.00,141.12 675.50,140.00 676.00,138.85 677.00,136.57 678.00,134.32 679.00,132.12 679.75,130.50 686.50,124.80 688.75,126.00 689.75,125.44 690.75,124.91 691.75,124.43 692.75,123.98 693.75,123.58 694.75,123.23 695.50,123.00 695.75,122.93 696.75,122.70 697.75,122.52 698.75,122.33 699.75,122.08 700.00,122.00 700.75,121.63 701.75,120.86 702.75,120.04 703.75,119.42 704.50,119.25 704.75,119.26 705.75,119.42 706.75,119.63 707.50,119.70 707.75,119.69 708.75,119.40 709.75,118.88 710.75,118.30 711.75,117.83 712.00,117.75 712.75,117.54 713.75,117.26 714.75,116.99 715.75,116.73 716.75,116.49 717.75,116.26 718.75,116.06 719.75,115.88 720.75,115.73 721.75,115.61 722.75,115.54 723.75,115.50 724.00,115.50 724.75,115.65 725.75,116.20 726.75,116.94 727.75,117.61 728.75,117.98 729.00,118.00 729.75,117.99 730.75,117.94 731.75,117.89 732.75,117.83 733.75,117.80 734.00,117.80 734.75,117.88 735.75,118.19 736.75,118.63 737.50,119.00 737.75,119.14 738.75,119.96 739.75,121.00 740.75,121.97 741.50,122.50 741.75,122.62 742.75,123.00 743.75,123.30 744.75,123.64 745.50,124.00 745.75,124.18 746.75,125.47 747.75,127.22 748.75,128.85 749.75,129.76 750.00,129.80 750.75,129.67 751.75,129.33 752.50,129.20 752.75,129.26 753.75,130.35 754.75,131.44 755.00,131.50 755.75,131.41 756.75,131.09 757.75,130.65 758.75,130.21 759.75,129.89 760.50,129.80 760.75,129.81 761.75,130.06 762.75,130.55 763.75,131.15 764.75,131.75 765.75,132.24 766.75,132.49 767.00,132.50 767.75,132.49 768.75,132.40 769.75,132.21 769.80,132.20" fill="none" stroke="#ff0000" stroke-width="1.08" stroke-linejoin="round"/>
</svg></body></html>
